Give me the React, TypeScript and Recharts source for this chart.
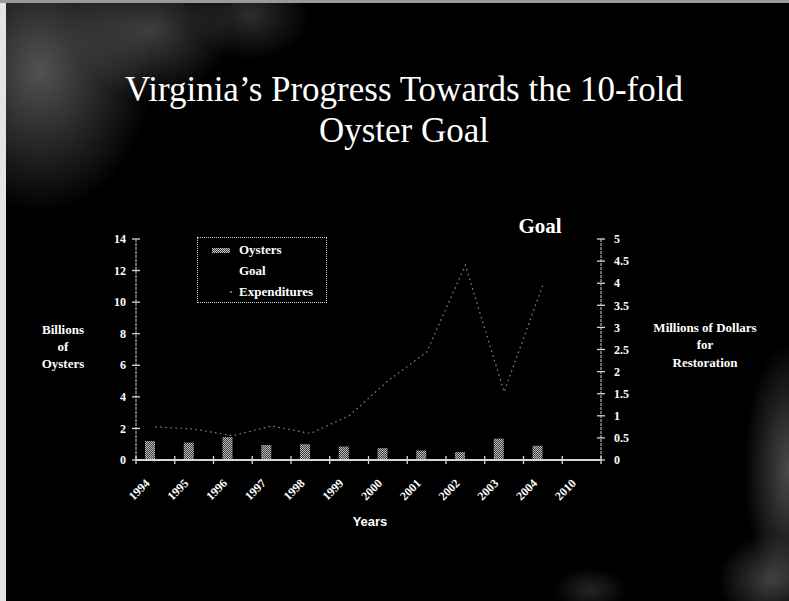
import React from 'react';
import { ComposedChart, Bar, Line, XAxis, YAxis, Rectangle } from 'recharts';

const years = ['1994', '1995', '1996', '1997', '1998', '1999', '2000', '2001', '2002', '2003', '2004', '2010'];
const oysters = [1.2, 1.1, 1.45, 0.95, 1.0, 0.85, 0.75, 0.6, 0.5, 1.35, 0.9, null];
const expenditures = [0.75, 0.7, 0.55, 0.77, 0.6, 1.0, 1.79, 2.44, 4.41, 1.54, 3.96, null];
const seriesNames = ['Oysters', 'Goal', 'Expenditures'];
const leftTicks = [0, 2, 4, 6, 8, 10, 12, 14];
const rightTicks = [0, 0.5, 1, 1.5, 2, 2.5, 3, 3.5, 4, 4.5, 5];

const data = years.map((y, i) => ({ year: y, oysters: oysters[i], expenditures: expenditures[i] }));

const W = 789;
const H = 601;
const MARGIN = { top: 239, right: 148, bottom: 81, left: 96 };
const YW = 40;
const XH = 60;
const BAND = (W - MARGIN.left - MARGIN.right - 2 * YW) / years.length;
const SERIF = '"Liberation Serif", "Times New Roman", serif';
const SANS = '"Liberation Sans", Arial, sans-serif';
const AXIS_COLOR = '#d6d6d6';

const XTick = (props: any) => {
  const { x, y, payload, index } = props;
  const last = index === years.length - 1;
  return (
    <g>
      <line x1={x - BAND / 2} x2={x - BAND / 2} y1={y - 4} y2={y + 4} stroke={AXIS_COLOR} strokeWidth={1.3} />
      {last && <line x1={x + BAND / 2} x2={x + BAND / 2} y1={y - 4} y2={y + 4} stroke={AXIS_COLOR} strokeWidth={1.3} />}
      <text
        x={x - 5}
        y={y + 24}
        textAnchor="end"
        transform={`rotate(-45 ${x - 5} ${y + 24})`}
        fill="#fff"
        fontFamily={SERIF}
        fontWeight="bold"
        fontSize={12}
      >
        {payload.value}
      </text>
    </g>
  );
};

const LeftTick = (props: any) => {
  const { x, y, payload } = props;
  return (
    <g>
      <line x1={x - 4} x2={x + 4} y1={y} y2={y} stroke={AXIS_COLOR} strokeWidth={1.3} />
      <text x={x - 10} y={y} dy="0.35em" textAnchor="end" fill="#fff" fontFamily={SERIF} fontWeight="bold" fontSize={12}>
        {payload.value}
      </text>
    </g>
  );
};

const RightTick = (props: any) => {
  const { x, y, payload } = props;
  return (
    <g>
      <line x1={x - 4} x2={x + 4} y1={y} y2={y} stroke={AXIS_COLOR} strokeWidth={1.3} />
      <text x={x + 13} y={y} dy="0.35em" textAnchor="start" fill="#fff" fontFamily={SERIF} fontWeight="bold" fontSize={12}>
        {payload.value}
      </text>
    </g>
  );
};

const BarShape = (props: any) => {
  const { x, y, width, height } = props;
  if (!height) return null;
  return <Rectangle x={x - 5} y={y} width={width} height={height} fill="url(#stipple)" />;
};

const LegendBox = () => (
  <div
    style={{
      position: 'absolute',
      left: 197,
      top: 237,
      width: 130,
      height: 66,
      border: '1px dotted #cfcfcf',
      fontFamily: SERIF,
      fontWeight: 'bold',
      fontSize: 13,
      color: '#fff',
      boxSizing: 'border-box',
    }}
  >
    {seriesNames.map((name, i) => (
      <div key={name} style={{ position: 'absolute', left: 41, top: 4 + i * 21, lineHeight: '16px', whiteSpace: 'nowrap' }}>
        {name}
      </div>
    ))}
    <svg style={{ position: 'absolute', left: 0, top: 0 }} width={128} height={64}>
      <defs>
        <pattern id="stippleL" width={2} height={2} patternUnits="userSpaceOnUse">
          <rect width={2} height={2} fill="#3a3a3a" />
          <rect width={1} height={1} fill="#c8c8c8" />
          <rect x={1} y={1} width={1} height={1} fill="#c8c8c8" />
        </pattern>
      </defs>
      <rect x={14} y={10} width={18} height={5} fill="url(#stippleL)" />
      <circle cx={33} cy={54} r={0.9} fill="#aaa" />
    </svg>
  </div>
);

export default function App() {
  const bg = [
    'radial-gradient(ellipse 150px 190px at 40px 70px, rgba(150,150,150,0.55), rgba(0,0,0,0) 75%)',
    'radial-gradient(ellipse 110px 90px at 150px 30px, rgba(140,140,140,0.45), rgba(0,0,0,0) 75%)',
    'radial-gradient(ellipse 80px 60px at 250px 15px, rgba(130,130,130,0.35), rgba(0,0,0,0) 75%)',
    'radial-gradient(ellipse 60px 170px at 789px 470px, rgba(150,150,150,0.5), rgba(0,0,0,0) 75%)',
    'radial-gradient(ellipse 70px 60px at 770px 580px, rgba(140,140,140,0.45), rgba(0,0,0,0) 75%)',
    'radial-gradient(ellipse 50px 30px at 590px 590px, rgba(120,120,120,0.3), rgba(0,0,0,0) 75%)',
  ].join(', ');

  return (
    <div style={{ position: 'fixed', left: 0, top: 0, width: W, height: H, background: '#000', backgroundImage: bg, overflow: 'hidden' }}>
      <div style={{ position: 'absolute', left: 0, top: 0, width: 6, height: H, background: '#e4e4e4' }} />
      <div style={{ position: 'absolute', left: 0, top: 0, width: W, height: 3, background: '#9a9a9a' }} />
      <svg style={{ position: 'absolute', left: 0, top: 0, pointerEvents: 'none' }} width={W} height={H}>
        <text x={404} y={101} textAnchor="middle" fill="#fff" fontFamily={SERIF} fontSize={35}>
          Virginia’s Progress Towards the 10-fold
        </text>
        <text x={404} y={142} textAnchor="middle" fill="#fff" fontFamily={SERIF} fontSize={35}>
          Oyster Goal
        </text>
        <text x={540} y={233} textAnchor="middle" fill="#fff" fontFamily={SERIF} fontWeight="bold" fontSize={21}>
          Goal
        </text>
        <g fill="#fff" fontFamily={SERIF} fontWeight="bold" fontSize={13} textAnchor="middle">
          <text x={63} y={334}>Billions</text>
          <text x={63} y={351}>of</text>
          <text x={63} y={368}>Oysters</text>
          <text x={705} y={332}>Millions of Dollars</text>
          <text x={705} y={349}>for</text>
          <text x={705} y={367}>Restoration</text>
        </g>
        <text x={370} y={526} textAnchor="middle" fill="#fff" fontFamily={SANS} fontWeight="bold" fontSize={13}>
          Years
        </text>
      </svg>
      <div style={{ position: 'absolute', left: 0, top: 0 }}>
        <ComposedChart width={W} height={H} data={data} margin={MARGIN}>
          <defs>
            <pattern id="stipple" width={2} height={2} patternUnits="userSpaceOnUse">
              <rect width={2} height={2} fill="#3a3a3a" />
              <rect width={1} height={1} fill="#bdbdbd" />
              <rect x={1} y={1} width={1} height={1} fill="#bdbdbd" />
            </pattern>
          </defs>
          <XAxis
            dataKey="year"
            height={XH}
            interval={0}
            tickSize={0}
            tickMargin={0}
            tick={<XTick />}
            axisLine={{ stroke: AXIS_COLOR, strokeWidth: 2 }}
          />
          <YAxis
            yAxisId="left"
            orientation="left"
            width={YW}
            domain={[0, 14]}
            ticks={leftTicks}
            interval={0}
            tickSize={0}
            tickMargin={0}
            tick={<LeftTick />}
            axisLine={{ stroke: AXIS_COLOR, strokeWidth: 1, strokeDasharray: '3 1' }}
          />
          <YAxis
            yAxisId="right"
            orientation="right"
            width={YW}
            domain={[0, 5]}
            ticks={rightTicks}
            interval={0}
            tickSize={0}
            tickMargin={0}
            tick={<RightTick />}
            axisLine={{ stroke: AXIS_COLOR, strokeWidth: 1, strokeDasharray: '3 1' }}
          />
          <Bar yAxisId="left" dataKey="oysters" name="Oysters" barSize={10} shape={<BarShape />} isAnimationActive={false} />
          <Line
            yAxisId="right"
            type="linear"
            dataKey="expenditures"
            name="Expenditures"
            stroke="#8c8c8c"
            strokeWidth={1.2}
            strokeDasharray="1.5 3.5"
            dot={false}
            activeDot={false}
            isAnimationActive={false}
          />
        </ComposedChart>
      </div>
      <LegendBox />
    </div>
  );
}
